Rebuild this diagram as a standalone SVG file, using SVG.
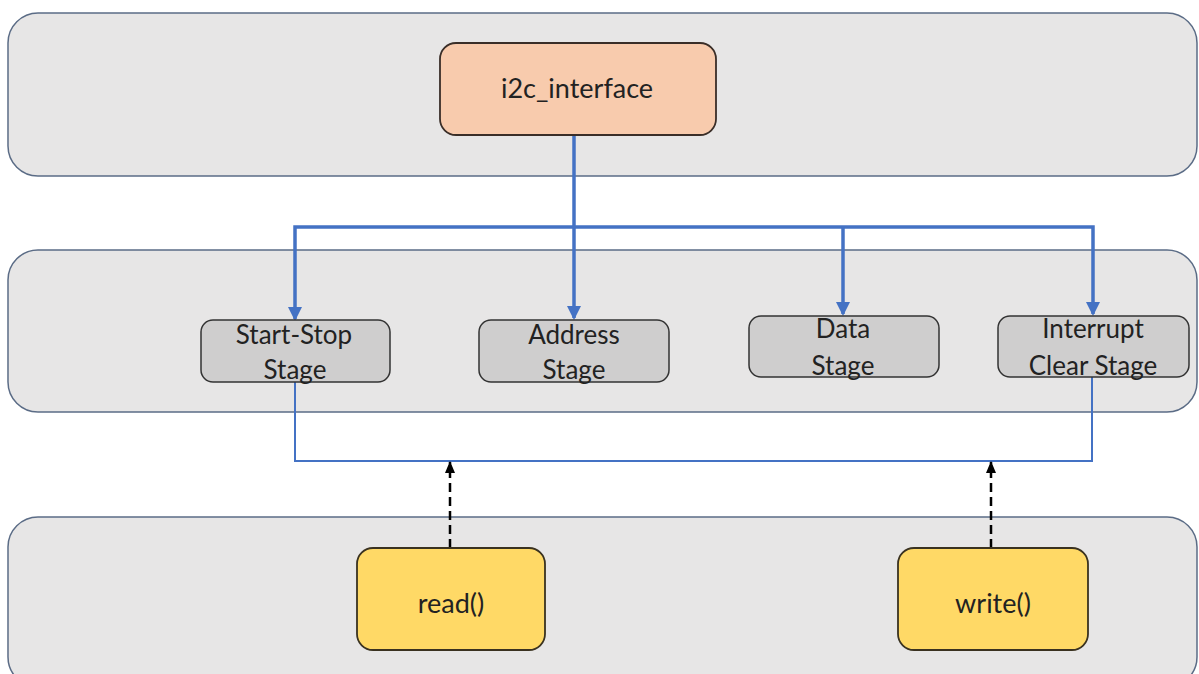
<svg xmlns="http://www.w3.org/2000/svg" width="1199" height="674" viewBox="0 0 1199 674">
  <defs>
    <!-- arrowheads drawn along +x so orient="auto" turns them with the line -->
    <marker id="blueHead" markerWidth="14" markerHeight="14" refX="12" refY="7" orient="auto-start-reverse" markerUnits="userSpaceOnUse" viewBox="0 0 14 14">
      <path d="M0,0 L14,7 L0,14 Z" fill="#4472C4"/>
    </marker>
    <marker id="blackHead" markerWidth="12" markerHeight="10" refX="11" refY="5" orient="auto" markerUnits="userSpaceOnUse" viewBox="0 0 12 10">
      <path d="M0,0 L12,5 L0,10 Z" fill="#000"/>
    </marker>
  </defs>
  <style>
    .panel { fill: #E7E6E6; stroke: #5B6C86; stroke-width: 1.5; }
    .stage { fill: #CFCECE; stroke: #333; stroke-width: 1.5; }
    .iface { fill: #F8CBAD; stroke: #3A2E28; stroke-width: 1.8; }
    .func { fill: #FFD966; stroke: #3A3220; stroke-width: 1.8; }
    .lbl { font-family: Lato, "Liberation Sans", sans-serif; fill: #222; text-anchor: middle; }
    .big { font-size: 27px; }
    .mid { font-size: 26px; }
    .fn { font-size: 27px; }
    .bus { fill: none; stroke: #4472C4; stroke-width: 3.5; }
    .ret { fill: none; stroke: #4472C4; stroke-width: 2; }
    .dash { fill: none; stroke: #000; stroke-width: 2.5; stroke-dasharray: 9 5; }
  </style>

  <!-- layer panels -->
  <g id="panels">
    <rect class="panel" x="8" y="13" width="1189" height="163" rx="30"/>
    <rect class="panel" x="8" y="250" width="1189" height="162" rx="30"/>
    <rect class="panel" x="8" y="517" width="1189" height="170" rx="30"/>
  </g>

  <!-- connectors -->
  <g id="connectors">
    <path class="bus" d="M574,135 V318" marker-end="url(#blueHead)"/>
    <path class="bus" d="M295,319 V227 H1093 V314" marker-start="url(#blueHead)" marker-end="url(#blueHead)"/>
    <path class="bus" d="M843,227 V314" marker-end="url(#blueHead)"/>
    <path class="ret" d="M295,382 V461 H1092 V377"/>
    <path class="dash" d="M450,548 V462" marker-end="url(#blackHead)"/>
    <path class="dash" d="M991,548 V462" marker-end="url(#blackHead)"/>
  </g>

  <g id="i2c_interface">
    <rect class="iface" x="440" y="43" width="276" height="92" rx="16"/>
    <text class="lbl big" x="577" y="98">i2c_interface</text>
  </g>

  <g id="start_stop_stage">
    <rect class="stage" x="201" y="320" width="189" height="62" rx="12"/>
    <text class="lbl mid" x="294" y="344">Start-Stop</text>
    <text class="lbl mid" x="295" y="379">Stage</text>
  </g>

  <g id="address_stage">
    <rect class="stage" x="479" y="320" width="190" height="62" rx="12"/>
    <text class="lbl mid" x="574" y="344">Address</text>
    <text class="lbl mid" x="574" y="379">Stage</text>
  </g>

  <g id="data_stage">
    <rect class="stage" x="749" y="316" width="190" height="61" rx="12"/>
    <text class="lbl mid" x="843" y="338">Data</text>
    <text class="lbl mid" x="843" y="375">Stage</text>
  </g>

  <g id="interrupt_clear_stage">
    <rect class="stage" x="998" y="316" width="191" height="61" rx="12"/>
    <text class="lbl mid" x="1093" y="338">Interrupt</text>
    <text class="lbl mid" x="1093" y="375">Clear Stage</text>
  </g>

  <g id="read">
    <rect class="func" x="357" y="548" width="188" height="102" rx="16"/>
    <text class="lbl fn" x="451" y="613">read()</text>
  </g>

  <g id="write">
    <rect class="func" x="898" y="548" width="190" height="102" rx="16"/>
    <text class="lbl fn" x="993" y="613">write()</text>
  </g>
</svg>
